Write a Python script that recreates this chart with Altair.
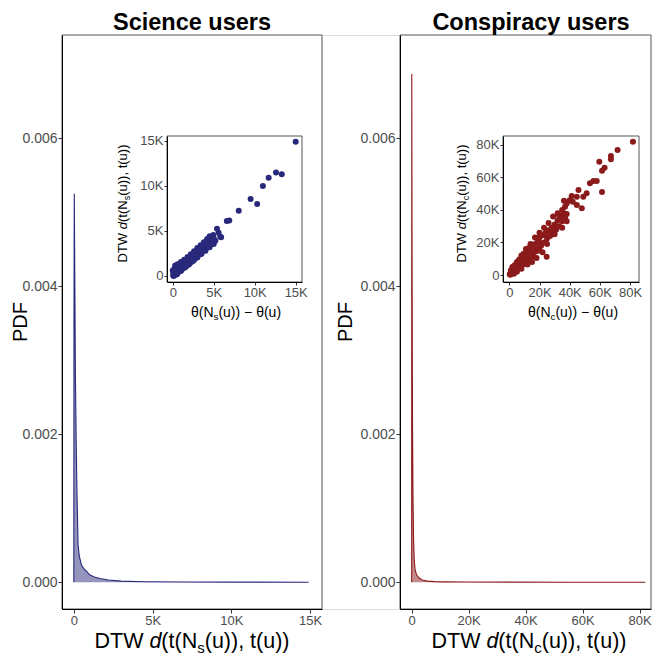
import altair as alt
import pandas as pd

# ---------------- data ----------------
# main panels: density of DTW distance
sci_x = [0, 10, 30, 60, 100, 150, 200, 270, 350, 490, 650, 800, 1000, 1300,
         1650, 2200, 3000, 4500, 7000, 10000, 14900]
sci_pdf = [0, 0.0035, 0.00525, 0.0042, 0.0028, 0.0019, 0.0012, 0.0005, 0.00035,
           0.00023, 0.00018, 0.00015, 0.0001, 0.00007, 0.00005, 0.00003,
           0.000015, 0.000007, 0.000003, 0.000001, 0.0]
con_x = [0, 40, 100, 200, 300, 450, 650, 900, 1200, 1700, 2500, 3700, 5500,
         8000, 12000, 20000, 35000, 55000, 82000]
con_pdf = [0, 0.00687, 0.0052, 0.0033, 0.0021, 0.0012, 0.0006, 0.0003, 0.00017,
           0.0001, 0.00006, 0.00003, 0.000015, 0.000008, 0.000004, 0.000002,
           0.000001, 0.0000004, 0]

# insets: theta difference (x) vs DTW distance (y), in thousands
sci_theta_k = [0.05, 0.1, 0.15, 0.2, 0.25, 0.3, 0.35, 0.4, 0.45, 0.5, 0.55, 0.6, 0.7, 0.75,
               0.8, 0.9, 1.0, 1.05, 1.1, 1.2, 1.3, 1.4, 1.5, 1.6, 1.7, 1.8, 1.9, 2.0,
               2.1, 2.2, 2.3, 2.4, 2.5, 2.6, 2.7, 2.8, 2.9, 3.0, 3.1, 3.2, 3.3, 3.4,
               3.5, 3.6, 3.7, 3.8, 3.9, 4.0, 4.1, 4.2, 4.3, 4.4, 4.5, 4.6, 4.7, 4.8,
               5.0, 5.2, 2.0, 2.6, 3.2, 1.5, 0.8, 0.2, 0.6, 3.6, 4.2, 2.4, 1.2, 3.0,
               0.3, 0.6, 1.0, 1.4, 1.8, 2.2, 2.6, 3.0, 3.4, 3.8, 4.2, 4.5,
               0.5, 1.0, 1.5, 2.0, 2.5, 3.0, 3.5, 4.0, 4.5, 5.0, 5.6, 5.9, 0.0, 0.1,
               15.0, 12.6, 13.3, 11.7, 11.0, 9.5, 10.3, 8.05, 6.6, 6.9, 5.4, 5.8, 4.95]
sci_dtw_k = [0.1, 0.3, 0.05, 0.5, 0.2, 0.7, 0.35, 0.9, 0.15, 0.6, 1.0, 0.3, 0.8, 0.5,
             1.1, 0.6, 0.9, 0.7, 1.2, 0.8, 1.1, 0.95, 1.3, 1.05, 1.45, 1.2, 1.6, 1.35,
             1.75, 1.5, 1.9, 1.65, 2.1, 1.8, 2.3, 2.0, 2.45, 2.15, 2.6, 2.35, 2.8, 2.5,
             3.0, 2.7, 3.2, 2.9, 3.35, 3.05, 3.5, 3.2, 3.7, 3.35, 3.9, 3.5, 4.1, 3.65,
             4.2, 3.9, 2.0, 2.5, 3.0, 1.6, 1.0, 0.8, 0.9, 3.3, 4.0, 2.3, 1.4, 2.9,
             1.15, 1.3, 1.55, 1.8, 2.1, 2.4, 2.75, 3.1, 3.4, 3.75, 4.1, 4.4,
             0.2, 0.55, 0.95, 1.3, 1.7, 2.05, 2.45, 2.8, 3.2, 3.55, 4.8, 4.3, 0.6, 0.0,
             14.9, 11.5, 11.3, 10.9, 10.0, 8.55, 8.0, 7.25, 6.1, 6.15, 5.25, 4.37, 4.55]

con_theta_k = [0.3, 0.6, 0.9, 1.2, 1.5, 1.8, 2.1, 2.4, 2.7, 3.0, 3.5, 4.0, 4.5, 5.0, 5.5,
               6.0, 6.5, 7.0, 7.5, 8.0, 8.5, 9.0, 9.5, 10.0, 10.5, 11.0, 11.5, 12.0,
               12.5, 13.0, 13.5, 14.0, 15.0, 15.5, 16.0, 17.0, 17.5, 18.0, 19.0, 19.5,
               20.0, 21.0, 22.0, 23.0, 24.0, 25.0, 26.0, 27.0, 28.0, 28.5, 30.0, 31.0,
               32.0, 33.0, 34.0, 35.0, 36.0, 37.0, 38.0, 24.7, 22.0, 18.0, 15.0, 12.0,
               8.0, 5.0, 3.0, 20.0, 25.0, 14.0, 10.0, 6.0, 30.0, 33.0, 16.0, 11.0, 7.0,
               4.0, 2.0,
               2.0, 5.0, 8.0, 11.0, 14.0, 17.0, 20.0, 23.0, 26.0, 29.0, 32.0, 35.0,
               10.0, 15.0, 20.0, 25.0, 30.0, 35.0, 38.0, 1.0, 3.5, 6.5, 9.5, 12.5,
               81.9, 71.7, 67.3, 67.3, 63.1, 61.4, 59.6, 61.4, 57.9, 55.7, 53.4, 51.2,
               49.0, 45.8, 44.7, 41.3, 48.0, 44.7, 36.2, 36.9, 40.0, 38.0, 42.0]
con_dtw_k = [0.5, 0.2, 1.5, 0.8, 2.5, 1.2, 3.0, 1.8, 3.5, 2.2, 4.2, 2.8, 5.0, 3.5, 6.5,
             4.2, 7.5, 5.0, 8.5, 5.8, 9.5, 6.5, 10.5, 7.2, 12.0, 8.0, 13.0, 9.0,
             15.0, 10.0, 16.5, 11.0, 17.5, 12.5, 14.0, 19.0, 14.5, 16.0, 21.0, 16.5,
             23.0, 18.0, 24.5, 20.0, 26.0, 22.5, 27.5, 24.0, 29.0, 26.0, 31.0, 28.0,
             33.5, 30.0, 36.0, 33.0, 38.0, 35.0, 37.5, 11.3, 14.0, 10.5, 8.0, 6.5,
             3.8, 2.0, 0.8, 20.0, 25.0, 14.5, 10.0, 6.0, 27.0, 36.5, 18.0, 12.5, 8.0,
             4.5, 2.0,
             5.0, 8.0, 12.0, 16.0, 19.0, 23.0, 26.0, 29.0, 32.0, 36.0, 38.0, 40.0,
             7.0, 11.0, 15.0, 19.0, 25.0, 29.0, 33.0, 3.0, 6.0, 9.5, 13.0, 16.5,
             82.0, 76.9, 73.2, 71.2, 66.0, 64.2, 69.7, 51.0, 57.8, 57.8, 56.4, 50.3,
             48.2, 52.3, 48.2, 48.6, 41.0, 43.0, 45.7, 42.0, 46.0, 44.0, 45.0]

main_y_ticks = [0, 0.002, 0.004, 0.006]
sci_x_ticks = [0, 5000, 10000, 15000]
con_x_ticks = [0, 20000, 40000, 60000, 80000]
sci_in_ticks = [0, 5, 10, 15]
con_in_ticks = [0, 20, 40, 60, 80]

# ---------------- styling / layout ----------------
NAVY = "#29297c"
RED = "#8b1a1a"
FONT = "Liberation Sans"
LEFT, TOP = 62, 35          # picture position of the plot origin
W, H = 590, 574
PAGE_H = 656


def rx(x):
    return x - LEFT


def ry(y):
    return y - TOP


L_RANGE = [rx(62), rx(322)]
R_RANGE = [rx(400), rx(651)]
INS_Y_RANGE = [ry(282), ry(136)]
LI_RANGE = [rx(167), rx(302)]
RI_RANGE = [rx(503), rx(639)]
Y_DOM = [-0.000362, 0.007396]

dummy = pd.DataFrame({"a": [1]})


def ax(**kw):
    base = dict(domainColor="black", domainWidth=1, tickColor="#333333", tickWidth=1,
                labelColor="#4d4d4d", labelFont=FONT, grid=False, title=None, zindex=1)
    base.update(kw)
    return alt.Axis(**base)


k_expr = "datum.value == 0 ? '0' : datum.value/1000 + 'K'"
kk_expr = "datum.value == 0 ? '0' : datum.value + 'K'"


def density(xs, ys, color, x_rng, x_dom, x_ticks, y_offset):
    df = pd.DataFrame({"x": xs, "pdf": ys})
    xsc = alt.Scale(domain=x_dom, range=x_rng, nice=False, zero=False)
    ysc = alt.Scale(domain=Y_DOM, range=[H, 0], nice=False, zero=False)
    area = alt.Chart(df).mark_area(color=color, opacity=0.5).encode(
        x=alt.X("x:Q", scale=xsc,
                axis=ax(orient="bottom", values=x_ticks, labelExpr=k_expr, tickSize=4,
                        labelFontSize=13, labelPadding=1)),
        y=alt.Y("pdf:Q", scale=ysc,
                axis=ax(orient="left", values=main_y_ticks, format=".3f", tickSize=4,
                        labelFontSize=14, labelPadding=1, offset=y_offset)))
    line = alt.Chart(df).mark_line(color=color, strokeWidth=1.1).encode(
        x=alt.X("x:Q", scale=xsc, axis=None),
        y=alt.Y("pdf:Q", scale=ysc, axis=None))
    return [area, line]


def scatter(xs, ys, color, x_rng, x_dom, y_dom, ticks, x_off, y_off):
    df = pd.DataFrame({"theta": xs, "dtw": ys})
    return alt.Chart(df).mark_circle(color=color, opacity=1, size=36).encode(
        x=alt.X("theta:Q", scale=alt.Scale(domain=x_dom, range=x_rng, nice=False, zero=False),
                axis=ax(orient="bottom", values=ticks, labelExpr=kk_expr, tickSize=3,
                        labelFontSize=13, labelPadding=1, offset=y_off)),
        y=alt.Y("dtw:Q", scale=alt.Scale(domain=y_dom, range=INS_Y_RANGE, nice=False, zero=False),
                axis=ax(orient="left", values=ticks, labelExpr=kk_expr, tickSize=3,
                        labelFontSize=13, labelPadding=1, offset=x_off)))


def frame(x0, x1, y0, y1, fill):
    return alt.Chart(dummy).mark_rect(fill=fill, stroke="#555555", strokeWidth=1).encode(
        x=alt.value(x0), x2=alt.value(x1), y=alt.value(y0), y2=alt.value(y1))


CW = {' ': 278, '(': 333, ')': 333, ',': 278, 'D': 722, 'T': 611, 'W': 944, 'N': 722,
      't': 278, 'u': 556, 's': 500, 'c': 500, 'd': 556, 'θ': 556, '−': 584}


def width(s, size):
    return sum(CW.get(ch, 556) for ch in s) * size / 1000.0


def rich(segments, cx, cy, size, rotated=False):
    parts = []
    for txt, kind in segments:
        fs = size * 0.7 if kind == "sub" else size
        parts.append((txt, kind, fs, width(txt, fs)))
    total = sum(p[3] for p in parts)
    pos = (cy + total / 2) if rotated else (cx - total / 2)
    out = []
    for txt, kind, fs, w in parts:
        shift = size * 0.22 if kind == "sub" else 0
        style = "italic" if kind == "i" else "normal"
        if rotated:
            x, y, ang = cx + shift, pos, 270
            pos -= w
        else:
            x, y, ang = pos, cy + shift, 0
            pos += w
        out.append(alt.Chart(dummy).mark_text(
            text=txt, font=FONT, fontSize=fs, fontStyle=style, color="black",
            align="left", baseline="alphabetic", angle=ang).encode(
            x=alt.value(x), y=alt.value(y)))
    return out


def plain(txt, cx, cy, size, weight="normal", angle=0):
    return alt.Chart(dummy).mark_text(
        text=txt, font=FONT, fontSize=size, fontWeight=weight, color="black",
        align="center", baseline="alphabetic", angle=angle).encode(
        x=alt.value(cx), y=alt.value(cy))


SUB_S = [("DTW ", "n"), ("d", "i"), ("(t(N", "n"), ("s", "sub"), ("(u)), t(u))", "n")]
SUB_C = [("DTW ", "n"), ("d", "i"), ("(t(N", "n"), ("c", "sub"), ("(u)), t(u))", "n")]

layers = []
layers.append(frame(L_RANGE[0], L_RANGE[1], 0, H, "white"))
layers.append(frame(R_RANGE[0], R_RANGE[1], 0, H, "white"))
layers += density(sci_x, sci_pdf, NAVY, L_RANGE, [-750, 15750], sci_x_ticks, 0)
layers += density(con_x, con_pdf, RED, R_RANGE, [-4100, 84000], con_x_ticks, -R_RANGE[0])
layers.append(frame(LI_RANGE[0], LI_RANGE[1], INS_Y_RANGE[1], INS_Y_RANGE[0], "white"))
layers.append(frame(RI_RANGE[0], RI_RANGE[1], INS_Y_RANGE[1], INS_Y_RANGE[0], "white"))
layers.append(scatter(sci_theta_k, sci_dtw_k, NAVY, LI_RANGE, [-0.7, 15.77], [-0.67, 15.55],
                      sci_in_ticks, -LI_RANGE[0], -(H - INS_Y_RANGE[0])))
layers.append(scatter(con_theta_k, con_dtw_k, RED, RI_RANGE, [-4.2, 85.9], [-4.3, 85.5],
                      con_in_ticks, -RI_RANGE[0], -(H - INS_Y_RANGE[0])))

# titles
layers.append(plain("Science users", rx(192), ry(29.5), 23.5, "bold"))
layers.append(plain("Conspiracy users", rx(531), ry(29.5), 23.5, "bold"))
layers.append(plain("PDF", rx(27), ry(322), 20, angle=270))
layers.append(plain("PDF", rx(352), ry(322), 20, angle=270))
layers += rich(SUB_S, rx(192), ry(648), 21.5)
layers += rich(SUB_C, rx(529), ry(648), 21.5)
layers += rich(SUB_S, rx(127), ry(203.5), 13, rotated=True)
layers += rich(SUB_C, rx(466), ry(203.5), 13, rotated=True)
layers += rich([("θ(N", "n"), ("s", "sub"), ("(u)) − θ(u)", "n")], rx(236), ry(317), 14)
layers += rich([("θ(N", "n"), ("c", "sub"), ("(u)) − θ(u)", "n")], rx(573), ry(317), 14)

chart = alt.layer(*layers).resolve_scale(
    x="independent", y="independent"
).resolve_axis(
    x="independent", y="independent"
).properties(
    width=W, height=H,
    autosize=alt.AutoSizeParams(type="none"),
    padding={"left": LEFT - 8, "top": TOP - 8, "right": 0, "bottom": PAGE_H - TOP - H},
).configure_view(stroke=None).configure(background="white")

chart.save("out.html", embed_options={"renderer": "svg", "actions": False})
